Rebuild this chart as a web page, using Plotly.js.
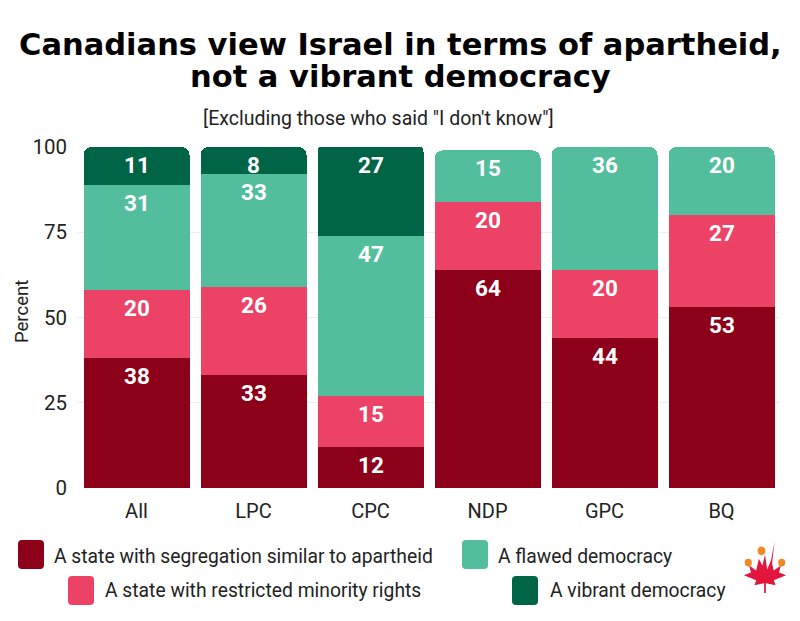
<!DOCTYPE html>
<html>
<head>
<meta charset="utf-8">
<script src="https://cdn.plot.ly/plotly-3.0.1.min.js"></script>
<style>
html,body{margin:0;padding:0;background:#fff;}
#chart{width:800px;height:621px;}
</style>
</head>
<body>
<div id="chart"></div>
<script>
const categories = ["All", "LPC", "CPC", "NDP", "GPC", "BQ"];
const seriesNames = [
  "A state with segregation similar to apartheid",
  "A state with restricted minority rights",
  "A flawed democracy",
  "A vibrant democracy"
];
const apartheid = [38, 33, 12, 64, 44, 53];
const restricted = [20, 26, 15, 20, 20, 27];
const flawed = [31, 33, 47, 15, 36, 20];
const vibrant = [11, 8, 27, null, null, null];
const colors = ["#8C001A", "#EC4266", "#52BE9E", "#006446"];
const yTicks = [0, 25, 50, 75, 100];

const seriesValues = [apartheid, restricted, flawed, vibrant];
const W = 800, H = 621;
const M = {l: 78, r: 20, t: 147, b: 133};
const pw = W - M.l - M.r, ph = H - M.t - M.b;
const px = x => (x - M.l) / pw;
const py = y => (H - M.b - y) / ph;

const textFont = "Roboto, sans-serif";

const traces = seriesValues.map((vals, i) => ({
  type: "bar",
  name: seriesNames[i],
  x: categories,
  y: vals,
  marker: {color: colors[i], line: {width: 0}},
  textposition: "none",
  hoverinfo: "x+y+name",
  showlegend: false
}));

const annotations = [];
// value labels: placed at the top of each stacked segment (data coordinates, clamped to the axis top)
const cum = categories.map(() => 0);
seriesValues.forEach(vals => {
  vals.forEach((v, j) => {
    if (v == null) return;
    cum[j] += v;
    annotations.push({xref: "x", yref: "y", x: categories[j], y: Math.min(cum[j], 100),
      yshift: -18, xanchor: "center", yanchor: "middle", showarrow: false,
      text: String(v),
      font: {family: "Roboto, sans-serif", size: 22.5, weight: 700, color: "#ffffff"}});
  });
});

// custom legend layout (positions in pixels)
const legendPos = [
  {sx: 18, sy: 540, tx: 52, ty: 556},
  {sx: 68, sy: 576, tx: 103, ty: 590},
  {sx: 462, sy: 540, tx: 496, ty: 556},
  {sx: 512, sy: 576, tx: 548, ty: 590}
];
const shapes = [];
function roundRectPath(x0, y0, w, h, r) {
  const p = (x, y) => px(x).toFixed(5) + "," + py(y).toFixed(5);
  return "M" + p(x0 + r, y0) + " L" + p(x0 + w - r, y0) +
    " Q" + p(x0 + w, y0) + " " + p(x0 + w, y0 + r) +
    " L" + p(x0 + w, y0 + h - r) +
    " Q" + p(x0 + w, y0 + h) + " " + p(x0 + w - r, y0 + h) +
    " L" + p(x0 + r, y0 + h) +
    " Q" + p(x0, y0 + h) + " " + p(x0, y0 + h - r) +
    " L" + p(x0, y0 + r) +
    " Q" + p(x0, y0) + " " + p(x0 + r, y0) + " Z";
}
seriesNames.forEach((n, i) => {
  const lp = legendPos[i];
  shapes.push({type: "path", xref: "paper", yref: "paper",
    path: roundRectPath(lp.sx, lp.sy, 26, 29, 4),
    fillcolor: colors[i], line: {width: 0}});
  annotations.push({xref: "paper", yref: "paper", x: px(lp.tx), y: py(lp.ty),
    xanchor: "left", yanchor: "middle", showarrow: false, text: n,
    font: {family: textFont, size: 19.3, color: "#222"}});
});

// Title and subtitle
const titleFont = {family: "DejaVu Sans, sans-serif", size: 30.5, weight: 700, color: "#000"};
annotations.push({xref: "paper", yref: "paper", x: px(400), y: py(44), xanchor: "center", yanchor: "middle",
  showarrow: false, text: "Canadians view Israel in terms of apartheid,", font: titleFont});
annotations.push({xref: "paper", yref: "paper", x: px(400), y: py(77), xanchor: "center", yanchor: "middle",
  showarrow: false, text: "not a vibrant democracy", font: titleFont});
annotations.push({xref: "paper", yref: "paper", x: px(378), y: py(118), xanchor: "center", yanchor: "middle",
  showarrow: false, text: "[Excluding those who said \"I don't know\"]",
  font: {family: textFont, size: 19.5, color: "#222"}});
// y-axis title
annotations.push({xref: "paper", yref: "paper", x: px(22), y: py(312), xanchor: "center", yanchor: "middle",
  textangle: -90, showarrow: false, text: "Percent",
  font: {family: textFont, size: 18.5, color: "#222"}});

// logo (maple leaf) as inline svg
const leafSvg = '<svg xmlns="http://www.w3.org/2000/svg" viewBox="0 0 100 110">' +
  '<path fill="#E3173E" d="M72 2 L64 40 L55 60 L50 30 L44 52 L36 38 L30 62 L14 52 L18 66 L2 72 L30 82 L26 92 L48 88 L48 108 L52 108 L52 88 L74 92 L70 82 L98 72 L82 66 L86 52 L70 62 L66 48 Z"/>' +
  '<circle cx="42" cy="22" r="9" fill="#F08A24"/><circle cx="12" cy="46" r="8" fill="#F08A24"/><circle cx="88" cy="46" r="8" fill="#F08A24"/>' +
  '</svg>';

const layout = {
  width: W, height: H,
  margin: M,
  paper_bgcolor: "#fff", plot_bgcolor: "#fff",
  barmode: "stack",
  bargap: 0.094,
  barcornerradius: 8,
  font: {family: "Roboto, sans-serif", color: "#222"},
  xaxis: {
    tickfont: {size: 20, family: textFont, color: "#222"},
    showline: false, ticks: "", fixedrange: true,
    ticklabelstandoff: 9
  },
  yaxis: {
    range: [0, 100],
    tickvals: yTicks,
    ticktext: yTicks.map(String),
    tickfont: {size: 20.5, family: textFont, color: "#222"},
    showgrid: true, gridcolor: "#eeeeee", zeroline: false,
    ticks: "", ticklen: 0,
    ticklabelstandoff: 10,
    fixedrange: true
  },
  showlegend: false,
  shapes: shapes,
  annotations: annotations,
  images: [{
    source: "data:image/svg+xml;utf8," + encodeURIComponent(leafSvg),
    xref: "paper", yref: "paper",
    x: px(743), y: py(540), sizex: 44 / pw, sizey: 54 / ph,
    xanchor: "left", yanchor: "top", layer: "above", sizing: "stretch"
  }]
};

Plotly.newPlot("chart", traces, layout, {displayModeBar: false, staticPlot: true});
</script>
</body>
</html>
